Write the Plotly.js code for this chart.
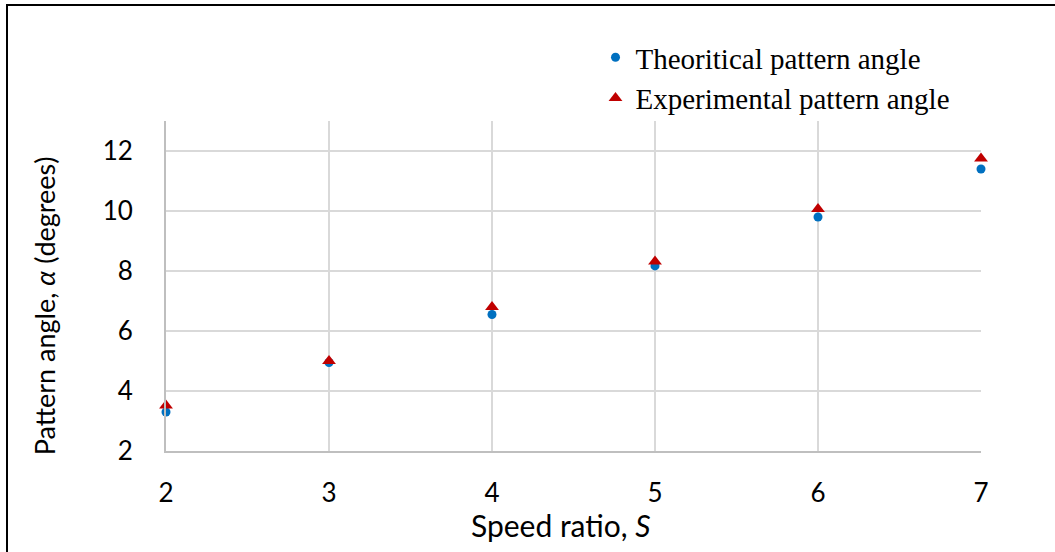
<!DOCTYPE html>
<html>
<head>
<meta charset="utf-8">
<script src="https://cdn.plot.ly/plotly-3.0.1.min.js"></script>
<style>
  html, body { margin: 0; padding: 0; background: #fff; overflow: hidden; }
  #chart { position: absolute; left: 0; top: 0; width: 1055px; height: 552px; }
  #frame { position: absolute; left: 6px; top: 4px; width: 1200px; height: 700px;
           border-left: 2.5px solid #000; border-top: 2.5px solid #000; pointer-events: none; }
</style>
</head>
<body>
<div id="chart"></div>
<div id="frame"></div>
<script>
const speedRatio = [2, 3, 4, 5, 6, 7];
const theoreticalAngle = [3.3, 4.95, 6.55, 8.17, 9.8, 11.4];
const experimentalAngle = [3.52, 5.0, 6.8, 8.32, 10.07, 11.75];
const xTickVals = [2, 3, 4, 5, 6, 7];
const yTickVals = [2, 4, 6, 8, 10, 12];
const xTitle = 'Speed ratio, <i>S</i>';
const yTitle = 'Pattern angle, <i>α</i> (degrees)';

const traces = [
  {
    x: speedRatio, y: theoreticalAngle, type: 'scatter', mode: 'markers',
    name: 'Theoritical pattern angle', cliponaxis: false,
    marker: { symbol: 'circle', size: 9, color: '#0070C0' }
  },
  {
    x: speedRatio, y: experimentalAngle, type: 'scatter', mode: 'markers',
    name: 'Experimental pattern angle', cliponaxis: false,
    marker: { symbol: 'triangle-up', size: 12, color: '#C00000' }
  }
];

const sans = 'Lato, "Open Sans", sans-serif';
const tickFont = { family: sans, size: 26, color: '#000' };

const layout = {
  width: 1055, height: 552,
  margin: { l: 166, r: 74, t: 121, b: 101 },
  paper_bgcolor: '#fff', plot_bgcolor: '#fff',
  showlegend: true,
  legend: {
    x: 0.527, y: 1.27, xanchor: 'left', yanchor: 'top',
    font: { family: '"Liberation Serif", "Times New Roman", serif', size: 29, color: '#000' },
    tracegroupgap: 0, itemwidth: 30, bgcolor: 'rgba(0,0,0,0)'
  },
  xaxis: {
    range: [2, 7], tickvals: xTickVals, ticktext: xTickVals.map(String),
    showgrid: true, gridcolor: '#d9d9d9', gridwidth: 2,
    showline: true, linecolor: '#bfbfbf', linewidth: 2,
    zeroline: false, ticks: '', ticklabelstandoff: 18,
    tickfont: tickFont
  },
  yaxis: {
    range: [2, 13], tickvals: yTickVals, ticktext: yTickVals.map(String),
    showgrid: true, gridcolor: '#d9d9d9', gridwidth: 2,
    showline: true, linecolor: '#bfbfbf', linewidth: 2,
    zeroline: false, ticks: '', ticklabelstandoff: 26,
    tickfont: tickFont
  },
  annotations: [
    { text: xTitle, xref: 'paper', yref: 'paper', x: 0.485, y: -0.224,
      xanchor: 'center', yanchor: 'middle', showarrow: false,
      font: { family: sans, size: 30, color: '#000' } },
    { text: yTitle, xref: 'paper', yref: 'paper', x: -0.149, y: 0.44,
      xanchor: 'center', yanchor: 'middle', showarrow: false, textangle: -90,
      font: { family: sans, size: 27, color: '#000' } }
  ]
};

Plotly.newPlot('chart', traces, layout, { displayModeBar: false, staticPlot: true });
</script>
</body>
</html>
